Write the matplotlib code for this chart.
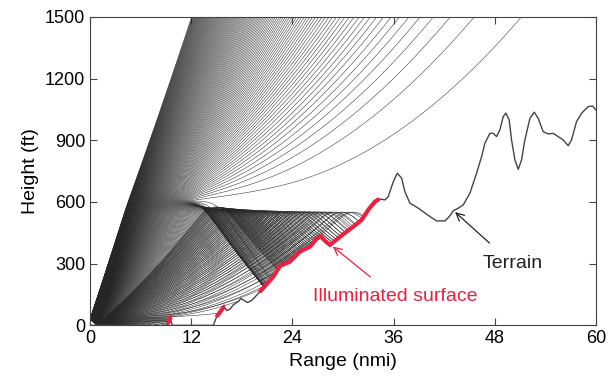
import numpy as np
import matplotlib
matplotlib.use("Agg")
import matplotlib.pyplot as plt

plt.rcParams['font.family'] = ['Liberation Sans', 'DejaVu Sans']

# terrain profile: range (nmi), height (ft)
terrain_range = [0.0, 9.15, 9.35, 9.5, 9.65, 9.8, 14.62, 15.02, 15.89, 16.21, 16.60, 16.99,
                 17.59, 17.87, 18.18, 18.65, 19.17, 19.68, 20.08, 21.74, 22.53, 23.72,
                 24.90, 26.09, 26.88, 27.36, 27.87, 28.46, 29.44, 30.44, 31.22, 32.22,
                 33.0, 33.80, 34.31, 34.98, 35.37, 35.97, 36.44, 36.96, 37.35, 37.95,
                 38.74, 39.52, 40.32, 41.11, 42.10, 42.61, 43.08, 43.67, 44.27, 45.06,
                 45.85, 46.45, 46.84, 47.43, 47.82, 48.23, 48.62, 49.01, 49.33, 49.72,
                 50.00, 50.40, 50.79, 51.19, 51.58, 52.18, 52.69, 53.16, 53.75, 54.35,
                 54.94, 55.53, 56.12, 56.72, 57.12, 57.71, 58.31, 59.09, 59.61, 60.0]
terrain_height = [0, 0, 20, 38, 12, 0, 0, 43, 91, 72, 79, 100,
                  116, 130, 124, 111, 121, 143, 161, 237, 289, 310,
                  359, 383, 421, 434, 411, 391, 424, 456, 480, 513,
                  562, 602, 615, 610, 626, 699, 740, 716, 650, 594,
                  575, 553, 529, 508, 508, 529, 557, 570, 586, 643,
                  740, 821, 886, 934, 934, 918, 951, 1015, 1032, 999,
                  902, 805, 759, 805, 902, 1007, 1037, 1007, 942, 931,
                  934, 918, 902, 874, 902, 991, 1032, 1064, 1067, 1048]

# illuminated parts of the terrain (range nmi)
lit_start = [9.2, 15.0, 20.08]
lit_end = [9.55, 15.9, 34.31]

# modified refractivity gradient (M-units per ft) versus height (ft) for the ray trace
grad_height = [0, 30, 60, 500, 550, 585, 610, 700, 3000]
grad_value = [-0.08, -0.01, 0.036, 0.036, -0.7, -0.7, 0.0, 0.036, 0.036]

antenna_height = 30.0
angle_lo_deg, angle_hi_deg, n_rays = -0.35, 1.18, 280

FT_PER_NMI = 6076.1
K = FT_PER_NMI ** 2 * 1e-6
dr = 0.02
r_grid = np.arange(0, 60 + dr / 2, dr)
ter = np.interp(r_grid, terrain_range, terrain_height)

ang = np.deg2rad(np.linspace(angle_lo_deg, angle_hi_deg, n_rays))
h = np.full(n_rays, antenna_height)
s = np.tan(ang) * FT_PER_NMI
alive = np.ones(n_rays, bool)
H = np.full((len(r_grid), n_rays), np.nan)
H[0] = h
for i in range(1, len(r_grid)):
    s_half = s + 0.5 * dr * K * np.interp(h, grad_height, grad_value)
    h_new = h + dr * s_half
    s_new = s_half + 0.5 * dr * K * np.interp(h_new, grad_height, grad_value)
    t = ter[i]
    below = h_new < t
    sea = below & (t <= 0)
    h_new[sea] = -h_new[sea]
    s_new[sea] = -s_new[sea]
    land = below & (t > 0) & alive
    h_new[land] = t
    H[i] = np.where(alive, h_new, np.nan)
    alive = alive & ~land & (h_new < 1600)
    h, s = h_new, s_new

fig = plt.figure(figsize=(6.13, 3.77), dpi=100)
ax = fig.add_axes([0.147, 0.137, 0.825, 0.818])

ax.plot(r_grid, H, color='#262626', lw=0.35)
ax.plot(terrain_range, terrain_height, color='#444444', lw=1.0)

tr = np.array(terrain_range)
th = np.array(terrain_height)
for a, b in zip(lit_start, lit_end):
    m = (tr > a) & (tr < b)
    xs = np.concatenate([[a], tr[m], [b]])
    ys = np.interp(xs, tr, th)
    ax.plot(xs, ys, color='#ee1f3f', lw=3, solid_capstyle='butt')

ax.annotate('Terrain', xy=(43.3, 551), xytext=(50.1, 300), ha='center', va='center',
            fontsize=14, color='#222222',
            arrowprops=dict(arrowstyle='->', color='#222222', lw=0.9, shrinkA=10, shrinkB=0))
ax.annotate('Illuminated surface', xy=(28.8, 383), xytext=(36.2, 138), ha='center', va='center',
            fontsize=14, color='#ee1f3f',
            arrowprops=dict(arrowstyle='->', color='#ee1f3f', lw=0.9, shrinkA=10, shrinkB=0))

ax.set_xlim(0, 60)
ax.set_ylim(0, 1500)
ax.set_xticks([0, 12, 24, 36, 48, 60])
ax.set_yticks([0, 300, 600, 900, 1200, 1500])
ax.tick_params(direction='in', top=True, right=True, length=5, labelsize=13, color='#444444')
for sp in ax.spines.values():
    sp.set_color('#444444')
ax.set_xlabel('Range (nmi)', fontsize=14)
ax.set_ylabel('Height (ft)', fontsize=14)

fig.savefig('out.png', dpi=100)
